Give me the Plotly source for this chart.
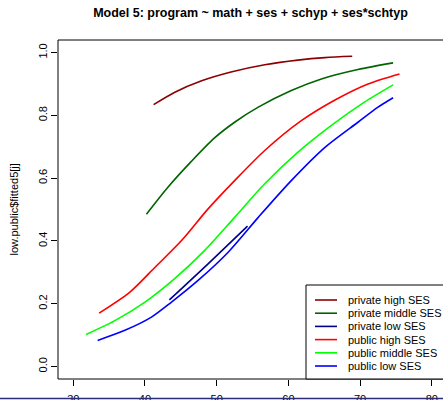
import plotly.graph_objects as go

# ---- data ----
priv_high_x = [41.2, 44.1, 47.9, 52.0, 56.7, 61.3, 65.1, 68.9]
priv_high_y = [0.834, 0.873, 0.910, 0.938, 0.961, 0.976, 0.984, 0.988]

priv_mid_x = [40.2, 43.2, 46.5, 49.7, 52.5, 55.8, 60.4, 64.6, 69.7, 74.6]
priv_mid_y = [0.485, 0.571, 0.654, 0.728, 0.778, 0.826, 0.879, 0.916, 0.946, 0.967]

priv_low_x = [43.4, 48.8, 54.3]
priv_low_y = [0.212, 0.327, 0.447]

pub_high_x = [33.6, 37.9, 41.4, 45.1, 48.8, 52.5, 56.7, 61.8, 66.5, 71.1, 75.5]
pub_high_y = [0.170, 0.237, 0.316, 0.401, 0.502, 0.592, 0.688, 0.783, 0.849, 0.900, 0.932]

pub_mid_x = [31.8, 35.8, 40.0, 44.1, 48.3, 52.5, 56.7, 61.3, 66.0, 70.6, 74.6]
pub_mid_y = [0.102, 0.146, 0.205, 0.279, 0.369, 0.475, 0.582, 0.682, 0.768, 0.842, 0.897]

pub_low_x = [33.4, 37.2, 40.9, 43.7, 47.4, 51.6, 55.8, 60.4, 65.1, 69.7, 72.5, 74.6]
pub_low_y = [0.083, 0.115, 0.157, 0.205, 0.274, 0.364, 0.475, 0.592, 0.698, 0.778, 0.826, 0.856]

series_names = ["private high SES", "private middle SES", "private low SES",
                "public high SES", "public middle SES", "public low SES"]
series_colors = ["#8B0000", "#006400", "#00008B", "#FF0000", "#00FF00", "#0000FF"]
series_x = [priv_high_x, priv_mid_x, priv_low_x, pub_high_x, pub_mid_x, pub_low_x]
series_y = [priv_high_y, priv_mid_y, priv_low_y, pub_high_y, pub_mid_y, pub_low_y]

x_ticks = [30, 40, 50, 60, 70, 80]
y_ticks = [0.0, 0.2, 0.4, 0.6, 0.8, 1.0]
y_tick_text = ["0.0", "0.2", "0.4", "0.6", "0.8", "1.0"]

FONT = "Liberation Sans, Arial, Helvetica, sans-serif"
W, H = 443, 400
ML, MR, MT, MB = 58, 0, 40, 21
PW, PH = W - ML - MR, H - MT - MB

fig = go.Figure()
for name, col, xs, ys in zip(series_names, series_colors, series_x, series_y):
    fig.add_trace(go.Scatter(x=xs, y=ys, mode="lines", name=name,
                             line=dict(color=col, width=1.6, shape="spline", smoothing=0.8),
                             showlegend=False))

def px2paper_x(px):
    return (px - ML) / PW

def py2paper_y(py):
    return (H - MB - py) / PH

shapes = []
annotations = []
# plot box (right side falls outside the window, as in the reference)
shapes.append(dict(type="rect", xref="paper", yref="paper", x0=0, x1=1.02, y0=0, y1=1,
                   line=dict(color="black", width=1), fillcolor="rgba(0,0,0,0)"))
# legend box
shapes.append(dict(type="rect", xref="paper", yref="paper",
                   x0=px2paper_x(306), x1=1.02, y0=0, y1=py2paper_y(285),
                   line=dict(color="black", width=1), fillcolor="white", layer="above"))
row0, dy = 300, 13.2
for i, (name, col) in enumerate(zip(series_names, series_colors)):
    yy = py2paper_y(row0 + i * dy)
    shapes.append(dict(type="line", xref="paper", yref="paper",
                       x0=px2paper_x(315), x1=px2paper_x(337), y0=yy, y1=yy,
                       line=dict(color=col, width=1.6), layer="above"))
    annotations.append(dict(text=name, xref="paper", yref="paper",
                            x=px2paper_x(346), y=yy, xanchor="left", yanchor="middle",
                            showarrow=False, font=dict(family=FONT, size=11, color="black")))
# y axis label
annotations.append(dict(text="low.public$fitted5[j]", xref="paper", yref="paper",
                        x=px2paper_x(13), y=0.5, xanchor="center", yanchor="middle",
                        textangle=-90, showarrow=False,
                        font=dict(family=FONT, size=11, color="black")))
# bottom edge strip visible in reference
shapes.append(dict(type="line", xref="paper", yref="paper", x0=-0.2, x1=1.02,
                   y0=py2paper_y(398.5), y1=py2paper_y(398.5),
                   line=dict(color="#2b2b78", width=1.5)))

fig.update_layout(
    width=W, height=H,
    margin=dict(l=ML, r=MR, t=MT, b=MB, pad=0, autoexpand=False),
    paper_bgcolor="white", plot_bgcolor="white",
    title=dict(text="<b>Model 5: program ~ math + ses + schyp + ses*schtyp</b>",
               x=0.5, xref="paper", xanchor="center",
               y=1 - 13 / H, yref="container", yanchor="middle",
               font=dict(family=FONT, size=12.5, color="black")),
    xaxis=dict(range=[27.87, 81.56], tickvals=x_ticks, ticks="outside", ticklen=6,
               tickcolor="black", showgrid=False, zeroline=False, showline=False,
               ticklabelstandoff=4, automargin=False,
               tickfont=dict(family=FONT, size=11, color="black")),
    yaxis=dict(range=[-0.04, 1.04], tickvals=y_ticks, ticktext=y_tick_text,
               ticks="outside", ticklen=6, tickcolor="black", tickangle=-90,
               showgrid=False, zeroline=False, showline=False, automargin=False,
               tickfont=dict(family=FONT, size=11, color="black")),
    shapes=shapes, annotations=annotations, showlegend=False,
)
fig.write_html("out.html")
